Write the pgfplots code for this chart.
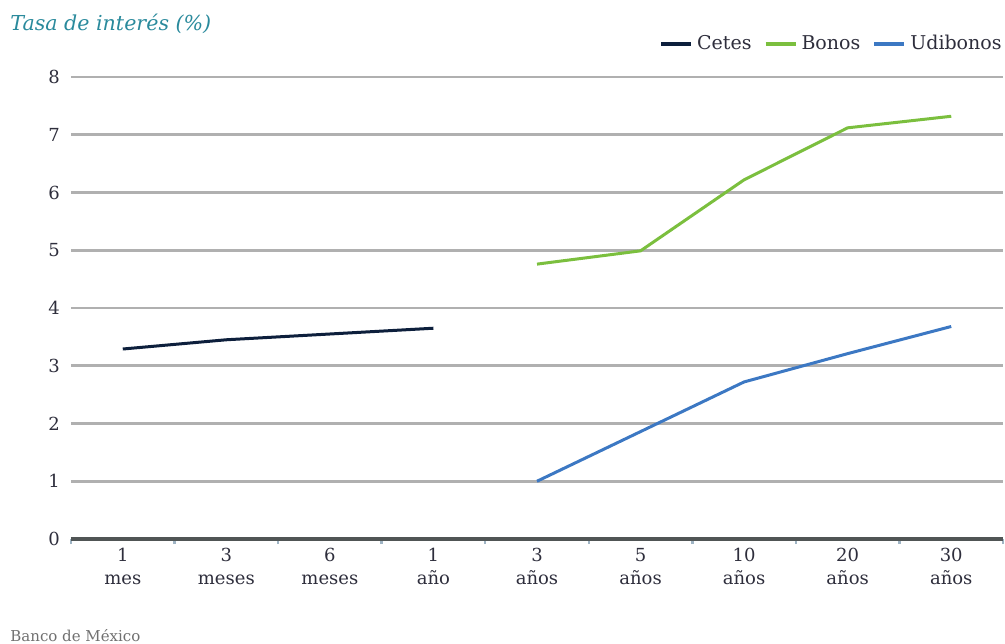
\documentclass[border=0pt]{standalone}
\usepackage{fontspec}
\setmainfont{DejaVu Serif}
\usepackage{pgfplots}
\pgfplotsset{compat=1.18}

\definecolor{cetes}{HTML}{0D1F3C}
\definecolor{bonos}{HTML}{7BBF3E}
\definecolor{udibonos}{HTML}{3C78C3}
\definecolor{gridc}{HTML}{B0B0B0}
\definecolor{axisc}{HTML}{505555}
\definecolor{tickc}{HTML}{2E2E3C}
\definecolor{titlec}{HTML}{2A8A9C}
\definecolor{minorc}{HTML}{9FB4C4}
\definecolor{sourcec}{HTML}{707070}

\begin{document}
\begin{tikzpicture}
\useasboundingbox (-35.5pt,-52pt) rectangle (467pt,269.5pt);
\begin{axis}[
  at={(0pt,0pt)}, anchor=south west,
  scale only axis, width=466pt, height=231pt,
  xmin=-0.5, xmax=8.5, ymin=0, ymax=8,
  axis x line*=bottom, axis y line*=left,
  x axis line style={draw=axisc, line width=2pt, -},
  y axis line style={draw=none},
  xtick={0,...,8},
  xticklabels={{1\\mes},{3\\meses},{6\\meses},{1\\año},{3\\años},{5\\años},{10\\años},{20\\años},{30\\años}},
  xticklabel style={align=center, font=\fontsize{9}{11.5}\selectfont, text=tickc, yshift=-1pt},
  minor xtick={-0.5,0.5,...,8.5},
  ytick={0,...,8},
  yticklabel style={font=\fontsize{9}{11}\selectfont, text=tickc, xshift=-2pt},
  /pgf/number format/assume math mode=true,
  major tick length=0pt,
  minor tick length=2.5pt,
  tick align=outside,
  minor tick style={draw=minorc, line width=1.2pt},
  ymajorgrids,
  major grid style={draw=gridc, line width=1.4pt},
  legend style={at={(1,1)}, anchor=east, yshift=16.5pt, xshift=4.5pt, draw=none, fill=none,
    font=\fontsize{9.5}{11}\selectfont, text=tickc,
    /tikz/every even column/.append style={column sep=4pt}},
  legend columns=-1,
  legend image code/.code={\draw[line width=2pt] (0pt,0pt) -- (15pt,0pt);},
  every axis plot/.append style={line width=1.5pt},
]
\addplot[cetes] coordinates {(0,3.29) (1,3.45) (2,3.55) (3,3.65)};
\addlegendentry{Cetes}
\addplot[bonos] coordinates {(4,4.76) (5,4.99) (6,6.22) (7,7.12) (8,7.32)};
\addlegendentry{Bonos}
\addplot[udibonos] coordinates {(4,1.00) (5,1.86) (6,2.72) (7,3.21) (8,3.68)};
\addlegendentry{Udibonos}
\end{axis}
\node[anchor=base west, inner sep=0pt, text=titlec, font=\fontsize{10.3}{12}\selectfont\itshape] at (-30.5pt,254pt) {Tasa de interés (\%)};
\node[anchor=base west, inner sep=0pt, text=sourcec, font=\fontsize{7.5}{9}\selectfont] at (-30.5pt,-51pt) {Banco de México};
\end{tikzpicture}
\end{document}
